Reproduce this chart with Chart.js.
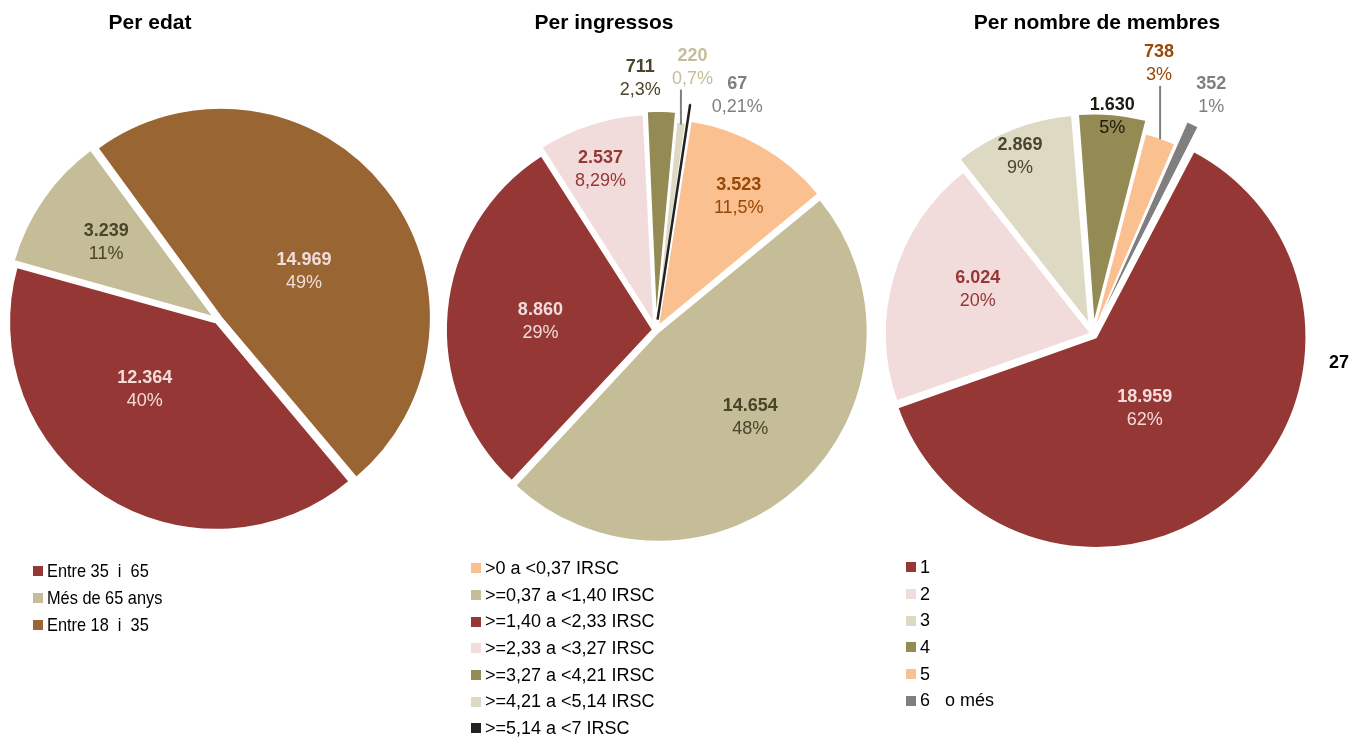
<!DOCTYPE html>
<html>
<head>
<meta charset="utf-8">
<script src="https://cdn.jsdelivr.net/npm/chart.js@4.4.1/dist/chart.umd.min.js"></script>
<style>
  html, body { margin: 0; padding: 0; background: #fff; }
  body { width: 1368px; height: 740px; overflow: hidden; position: relative; font-family: "Liberation Sans", Arial, sans-serif; }
  canvas { position: absolute; }
  .title { position: absolute; top: 10px; font-weight: bold; font-size: 21px; color: #000; transform: translateX(-50%); white-space: nowrap; z-index: 2; }
  .legend { position: absolute; margin: 0; padding: 0; list-style: none; font-size: 18px; color: #000; z-index: 2; }
  .legend li { height: 26.7px; display: flex; align-items: center; white-space: pre; }
  .legend i { display: inline-block; width: 10px; height: 10px; margin-right: 4px; flex: none; }
  .legend.narrow { font-size: 19px; }
  .legend.narrow li { height: 27px; }
  .legend.narrow span { display: inline-block; transform: scaleX(0.86); transform-origin: left center; }
  .stray { position: absolute; left: 1329px; top: 352px; font-weight: bold; font-size: 18px; }
</style>
</head>
<body>
<canvas id="edatChart" width="600" height="600" style="left:-82px;top:20px"></canvas>
<canvas id="ingChart" width="600" height="600" style="left:356px;top:30px"></canvas>
<canvas id="memChart" width="600" height="600" style="left:793px;top:34px"></canvas>

<div class="title" style="left:150px">Per edat</div>
<div class="title" style="left:604px">Per ingressos</div>
<div class="title" style="left:1097px">Per nombre de membres</div>
<div class="stray">27</div>

<ul class="legend narrow" id="edatLegend" style="left:33px;top:557px"></ul>
<ul class="legend" id="ingLegend" style="left:471px;top:555px"></ul>
<ul class="legend" id="memLegend" style="left:906px;top:554px"></ul>

<script>
// --- Per edat ---
const edatLabels = ['Entre 35  i  65', 'Més de 65 anys', 'Entre 18  i  35'];
const edatValues = [12364, 3239, 14969];
const edatPct = ['40%', '11%', '49%'];

// --- Per ingressos ---
const ingLabels = ['>0 a <0,37 IRSC', '>=0,37 a <1,40 IRSC', '>=1,40 a <2,33 IRSC', '>=2,33 a <3,27 IRSC',
                   '>=3,27 a <4,21 IRSC', '>=4,21 a <5,14 IRSC', '>=5,14 a <7 IRSC'];
const ingValues = [3523, 14654, 8860, 2537, 711, 220, 67];
const ingPct = ['11,5%', '48%', '29%', '8,29%', '2,3%', '0,7%', '0,21%'];

// --- Per nombre de membres ---
const memLabels = ['1', '2', '3', '4', '5', '6   o més'];
const memValues = [18959, 6024, 2869, 1630, 738, 352];
const memPct = ['62%', '20%', '9%', '5%', '3%', '1%'];

// colours
const RED = '#953735', TAN = '#c4bd97', BROWN = '#996633', PEACH = '#fac090',
      PINK = '#f2dcdb', OLIVE = '#948a54', LTAN = '#ddd9c3', BLACK = '#222222', GRAY = '#7f7f7f';

const fmt = v => String(v).replace(/\B(?=(\d{3})+(?!\d))/g, '.');

// draws value + percent inside/outside each slice
const sliceLabels = {
    id: 'sliceLabels',
    afterDatasetsDraw(chart, args, opts) {
        const ctx = chart.ctx;
        const meta = chart.getDatasetMeta(0);
        const values = chart.data.datasets[0].data;
        ctx.save();
        meta.data.forEach((arc, i) => {
            const mid = (arc.startAngle + arc.endAngle) / 2;
            const [frac, shift] = opts.pos[i];
            const a = mid + shift * Math.PI / 180;
            const R = arc.outerRadius;
            const x = arc.x + Math.cos(a) * R * frac;
            const y = arc.y + Math.sin(a) * R * frac;
            if (opts.leader && opts.leader.includes(i)) {
                const ex = arc.x + Math.cos(mid) * R;
                const ey = arc.y + Math.sin(mid) * R;
                ctx.strokeStyle = '#7f7f7f';
                ctx.lineWidth = 2;
                ctx.beginPath();
                ctx.moveTo(ex, y + 22);
                ctx.lineTo(ex, ey);
                ctx.stroke();
            }
            ctx.fillStyle = opts.colors[i];
            ctx.textAlign = 'center';
            ctx.textBaseline = 'middle';
            ctx.font = 'bold 18px "Liberation Sans", Arial, sans-serif';
            ctx.fillText(fmt(values[i]), x, y - 11.5);
            ctx.font = '18px "Liberation Sans", Arial, sans-serif';
            ctx.fillText(opts.pct[i], x, y + 11.5);
        });
        ctx.restore();
    }
};

function makePie(id, values, colors, offsets, rotation, radius, borders, labelOpts) {
    return new Chart(document.getElementById(id), {
        type: 'pie',
        data: {
            datasets: [{
                data: values,
                backgroundColor: colors,
                borderColor: borders.color,
                borderWidth: borders.width,
                offset: offsets
            }]
        },
        options: {
            responsive: false,
            animation: false,
            rotation: rotation,
            radius: radius,
            events: [],
            layout: { padding: 0 },
            plugins: {
                legend: { display: false },
                tooltip: { enabled: false },
                sliceLabels: labelOpts
            }
        },
        plugins: [sliceLabels]
    });
}

function makeLegend(id, labels, colors) {
    const ul = document.getElementById(id);
    labels.forEach((l, i) => {
        const li = document.createElement('li');
        const sq = document.createElement('i');
        sq.style.background = colors[i];
        const txt = document.createElement('span');
        txt.textContent = l;
        li.appendChild(sq);
        li.appendChild(txt);
        ul.appendChild(li);
    });
}

const edatColors = [RED, TAN, BROWN];
const ingColors = [PEACH, TAN, RED, PINK, OLIVE, LTAN, BLACK];
const memColors = [RED, PINK, LTAN, OLIVE, PEACH, GRAY];

makePie('edatChart', edatValues, edatColors, [12, 20, 16], 140, 206,
    { color: '#ffffff', width: 2 }, {
    pct: edatPct,
    pos: [[0.49, 13.8], [0.66, 0], [0.48, 8.6]],
    colors: [PINK, '#4a452a', PINK]
});

makePie('ingChart', ingValues, ingColors, [16, 12, 12, 24, 26, 4, 42], 9, 207,
    { color: ['#fff', '#fff', '#fff', '#fff', '#fff', '#fff', BLACK], width: [2, 2, 2, 2, 2, 1.5, 2.5] }, {
    pct: ingPct,
    pos: [[0.76, 2], [0.62, -4], [0.56, -1], [0.82, -1.4], [1.215, -5], [1.28, 1], [1.2, 10.5]],
    colors: ['#984807', '#4a452a', PINK, RED, '#4a452a', TAN, '#7f7f7f'],
    leader: [5]
});

makePie('memChart', memValues, memColors, [18, 8, 40, 35, 2, 54], 27.5, 206,
    { color: '#ffffff', width: [2, 2, 2, 2, 1.5, 1] }, {
    pct: memPct,
    pos: [[0.44, 6], [0.6, 5], [0.93, -1], [1.06, 0], [1.35, -5.3], [1.29, 1]],
    colors: [PINK, RED, '#4a452a', '#1d1b10', '#984807', '#7f7f7f'],
    leader: [4]
});

makeLegend('edatLegend', edatLabels, edatColors);
makeLegend('ingLegend', ingLabels, ingColors);
makeLegend('memLegend', memLabels, memColors);
</script>
</body>
</html>
